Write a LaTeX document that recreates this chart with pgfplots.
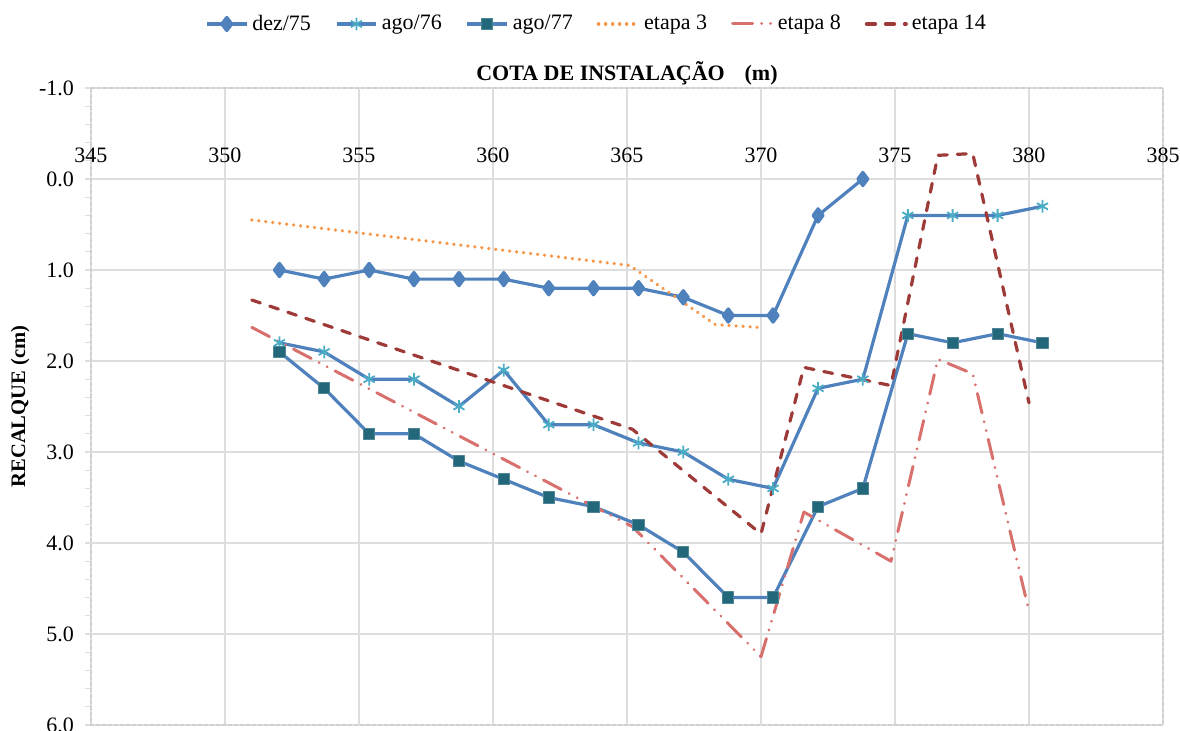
\documentclass[border=0pt]{standalone}
\usepackage{pgfplots}
\pgfplotsset{compat=1.18}
\usepackage{fontspec}
\setmainfont{Liberation Serif}
\definecolor{cblue}{HTML}{4F81BD}
\definecolor{caqua}{HTML}{4BACC6}
\definecolor{cteal}{HTML}{23687A}
\definecolor{corange}{HTML}{F79646}
\definecolor{csalmon}{HTML}{D8716E}
\definecolor{cdred}{HTML}{9E3A38}
\definecolor{gridgray}{HTML}{DEDEDE}
\definecolor{bordergray}{HTML}{D0D0D0}
\begin{document}
\begin{tikzpicture}
\begin{axis}[
  name=ax, at={(0,0)}, anchor=south west,
  scale only axis, width=536pt, height=318.5pt,
  xmin=345, xmax=385, ymin=-1, ymax=6, y dir=reverse,
  xtick={345,350,...,385},
  xticklabels={345,350,355,360,365,370,375,380,385},
  ytick={-1,0,...,6},
  yticklabels={-1.0,0.0,1.0,2.0,3.0,4.0,5.0,6.0},
  minor y tick num=4,
  xticklabel pos=upper,
  x tick style={draw=none},
  ytick pos=left,
  tick align=outside,
  y tick style={draw=gridgray, line width=0.6pt},
  major tick length=3pt, minor tick length=3pt,
  grid=major,
  major grid style={draw=gridgray, line width=0.6pt},
  axis line style={draw=bordergray, dash pattern=on 2pt off 1pt, line width=0.6pt},
  font=\fontsize{11}{13}\selectfont,
  xticklabel style={anchor=base, yshift=-40pt},
  yticklabel style={xshift=-2pt},
  title={COTA DE INSTALAÇÃO\hspace{0.9em}(m)},
  title style={at={(axis description cs:0.5,1)}, anchor=base, yshift=-2pt, font=\fontsize{11}{13}\selectfont\bfseries},
  ylabel={RECALQUE (cm)},
  ylabel style={at={(axis description cs:-0.066,0.5)}, anchor=center, font=\fontsize{10.3}{12}\selectfont\bfseries},
  legend style={at={(axis description cs:0.4725,1.1005)}, anchor=center, draw=none, fill=none,
    font=\fontsize{11}{13}\selectfont, /tikz/every even column/.append style={column sep=10pt}},
  legend columns=6,
  legend image code/.code={\draw[mark repeat=2,mark phase=2] plot coordinates {(0cm,0cm) (0.35cm,0cm) (0.7cm,0cm)};},
  every axis plot/.append style={line join=round},
]
\addplot[cblue, line width=1.6pt, mark=diamond*, mark size=3.3pt, mark options={solid, fill=cblue}] coordinates {
(352.03,1.0) (353.70,1.1) (355.38,1.0) (357.05,1.1) (358.73,1.1) (360.40,1.1) (362.08,1.2)
(363.75,1.2) (365.43,1.2) (367.10,1.3) (368.78,1.5) (370.45,1.5) (372.13,0.4) (373.80,0.0)};
\addlegendentry{dez/75}
\addplot[cblue, line width=1.6pt, mark=asterisk, mark size=3.2pt, mark options={solid, draw=caqua, line width=0.9pt}] coordinates {
(352.03,1.8) (353.70,1.9) (355.38,2.2) (357.05,2.2) (358.73,2.5) (360.40,2.1) (362.08,2.7)
(363.75,2.7) (365.43,2.9) (367.10,3.0) (368.78,3.3) (370.45,3.4) (372.13,2.3) (373.80,2.2)
(375.48,0.4) (377.15,0.4) (378.83,0.4) (380.50,0.3)};
\addlegendentry{ago/76}
\addplot[cblue, line width=1.6pt, mark=square*, mark size=2.8pt, mark options={solid, fill=cteal, draw=cteal!80!white, line width=0.5pt}] coordinates {
(352.03,1.9) (353.70,2.3) (355.38,2.8) (357.05,2.8) (358.73,3.1) (360.40,3.3) (362.08,3.5)
(363.75,3.6) (365.43,3.8) (367.10,4.1) (368.78,4.6) (370.45,4.6) (372.13,3.6) (373.80,3.4)
(375.48,1.7) (377.15,1.8) (378.83,1.7) (380.50,1.8)};
\addlegendentry{ago/77}
\addplot[corange, line width=1.8pt, line cap=round, dash pattern=on 0.01pt off 3.5pt] coordinates {
(351.0,0.45) (365.1,0.95) (368.3,1.6) (369.9,1.63)};
\addlegendentry{etapa 3}
\addplot[csalmon, line width=1.5pt, line cap=round, dash pattern=on 10pt off 4.5pt on 0.01pt off 4.5pt on 0.01pt off 4.5pt] coordinates {
(351.0,1.63) (365.2,3.82) (370.0,5.25) (371.6,3.66) (374.85,4.2) (376.6,1.98) (377.9,2.14) (380.0,4.75)};
\addlegendentry{etapa 8}
\addplot[cdred, line width=1.6pt, line cap=round, dash pattern=on 4.5pt off 5pt] coordinates {
(351.0,1.33) (365.2,2.75) (370.0,3.9) (371.6,2.07) (374.85,2.27) (376.6,-0.26) (377.9,-0.28) (380.0,2.46)};
\addlegendentry{etapa 14}
\end{axis}
\pgfresetboundingbox
\useasboundingbox (-45.5pt,-3pt) rectangle (544.5pt,362.5pt);
\end{tikzpicture}
\end{document}
